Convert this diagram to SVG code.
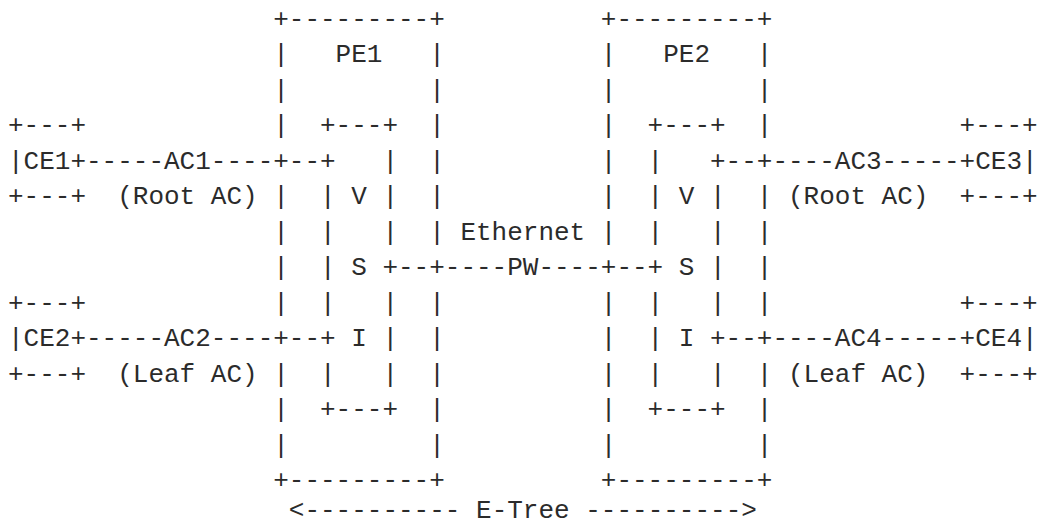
<svg xmlns="http://www.w3.org/2000/svg" width="1044" height="526" viewBox="0 0 1044 526" xml:space="preserve">
<style>
  text { font-family: "Liberation Mono", "DejaVu Sans Mono", monospace; font-size: 26px; fill: #2b2b2b; white-space: pre; }
</style>
<rect x="0" y="0" width="1044" height="526" fill="#ffffff"/>
<g id="CE1">
  <text x="8" y="133">+---+</text>
  <text x="8" y="168.5">|CE1+</text>
  <text x="8" y="204">+---+</text>
</g>
<g id="CE2">
  <text x="8" y="310.5">+---+</text>
  <text x="8" y="346">|CE2+</text>
  <text x="8" y="381.5">+---+</text>
</g>
<g id="CE3">
  <text x="959.6" y="133">+---+</text>
  <text x="959.6" y="168.5">+CE3|</text>
  <text x="959.6" y="204">+---+</text>
</g>
<g id="CE4">
  <text x="959.6" y="310.5">+---+</text>
  <text x="959.6" y="346">+CE4|</text>
  <text x="959.6" y="381.5">+---+</text>
</g>
<g id="PE1">
  <text x="273.2" y="26.5">+---------+</text>
  <text x="273.2" y="62">|   PE1   |</text>
  <text x="273.2" y="97.5">|         |</text>
  <text x="273.2" y="133">|  +---+  |</text>
  <text x="273.2" y="168.5">+--+   |  |</text>
  <text x="273.2" y="204">|  | V |  |</text>
  <text x="273.2" y="239.5">|  |   |  |</text>
  <text x="273.2" y="275">|  | S +--+</text>
  <text x="273.2" y="310.5">|  |   |  |</text>
  <text x="273.2" y="346">+--+ I |  |</text>
  <text x="273.2" y="381.5">|  |   |  |</text>
  <text x="273.2" y="417">|  +---+  |</text>
  <text x="273.2" y="452.5">|         |</text>
  <text x="273.2" y="488">+---------+</text>
</g>
<g id="PE2">
  <text x="600.8" y="26.5">+---------+</text>
  <text x="600.8" y="62">|   PE2   |</text>
  <text x="600.8" y="97.5">|         |</text>
  <text x="600.8" y="133">|  +---+  |</text>
  <text x="600.8" y="168.5">|  |   +--+</text>
  <text x="600.8" y="204">|  | V |  |</text>
  <text x="600.8" y="239.5">|  |   |  |</text>
  <text x="600.8" y="275">+--+ S |  |</text>
  <text x="600.8" y="310.5">|  |   |  |</text>
  <text x="600.8" y="346">|  | I +--+</text>
  <text x="600.8" y="381.5">|  |   |  |</text>
  <text x="600.8" y="417">|  +---+  |</text>
  <text x="600.8" y="452.5">|         |</text>
  <text x="600.8" y="488">+---------+</text>
</g>
<g id="connectors">
  <text x="86" y="168.5">-----AC1----</text>
  <text x="117.2" y="204">(Root AC)</text>
  <text x="86" y="346">-----AC2----</text>
  <text x="117.2" y="381.5">(Leaf AC)</text>
  <text x="772.4" y="168.5">----AC3-----</text>
  <text x="788" y="204">(Root AC)</text>
  <text x="772.4" y="346">----AC4-----</text>
  <text x="788" y="381.5">(Leaf AC)</text>
  <text x="460.4" y="239.5">Ethernet</text>
  <text x="444.8" y="275">----PW----</text>
</g>
<g id="scope">
  <text x="288.8" y="518">&lt;---------- E-Tree ----------&gt;</text>
</g>
</svg>
